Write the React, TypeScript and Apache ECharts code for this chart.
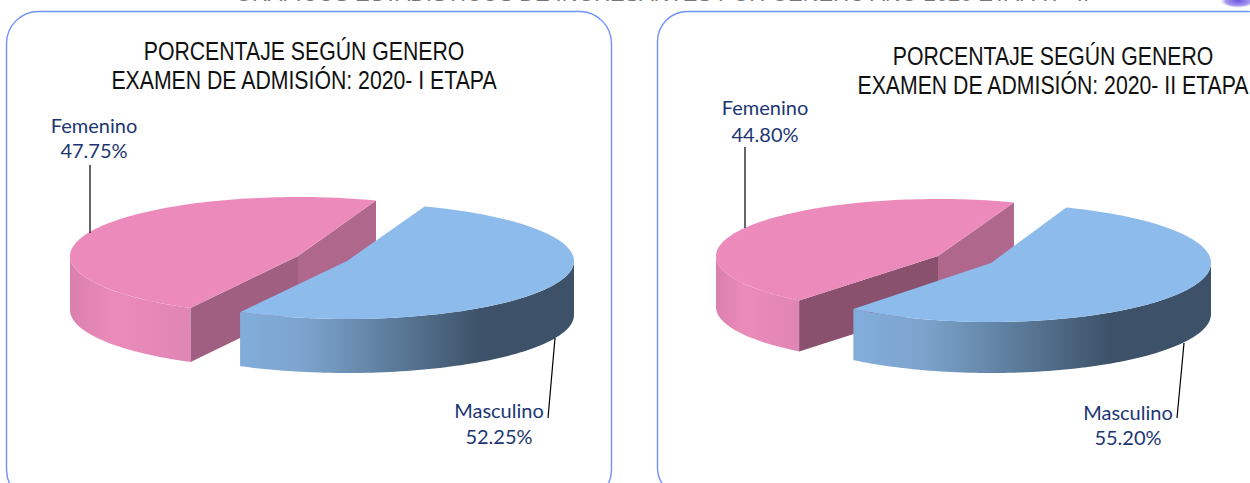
import React, { useEffect, useRef } from "react";
import * as echarts from "echarts";

const categories = ["Femenino", "Masculino"];
const etapa1Values = [47.75, 52.25];
const etapa2Values = [44.8, 55.2];
const chartTitleLines = [
  ["PORCENTAJE SEGÚN GENERO", "EXAMEN DE ADMISIÓN: 2020- I ETAPA"],
  ["PORCENTAJE SEGÚN GENERO", "EXAMEN DE ADMISIÓN: 2020- II ETAPA"],
];
const pageHeading = "GRÁFICOS ESTADÍSTICOS DE INGRESANTES POR GENERO AÑO 2020 ETAPA I - II";

const SEAM_ANGLE = -70;
const LABEL_FONT = '20px Lato, "Noto Sans", sans-serif';
const LABEL_COLOR = "#1C3673";
const TITLE_FONT = '25px "Liberation Sans", sans-serif';
const TITLE_SCALE = 0.85;

const titlePlaces = [
  { x: 304, y: [51, 80] },
  { x: 1053, y: [56, 85] },
];

const layouts = [
  {
    slices: [
      { cx: 298, cy: 256, rx: 228, ry: 59, depth: 54, label: [94, 125, 150], leader: [90, 165, 90, 233] },
      { cx: 347, cy: 261, rx: 227, ry: 58, depth: 54, label: [499, 410, 436], leader: [555, 338, 548, 418] },
    ],
    lowerCut: "#A05F80",
  },
  {
    slices: [
      { cx: 938, cy: 256, rx: 222, ry: 57, depth: 51, label: [765, 107, 134], leader: [745, 147, 745, 228] },
      { cx: 991, cy: 263, rx: 220, ry: 59, depth: 51, label: [1128, 412, 437], leader: [1184, 343, 1177, 418] },
    ],
    lowerCut: "#8A516E",
  },
];

const TOP_COLORS = ["#EC8BBB", "#8DBCEC"];
const UPPER_CUT = "#B0678C";

const sideGradients = [
  [
    [0, "#DA80AD"],
    [0.35, "#EB8BBA"],
    [1, "#E086B4"],
  ],
  [
    [0, "#82ADDB"],
    [0.2, "#7CA3CC"],
    [0.43, "#5F7FA0"],
    [0.72, "#3D5268"],
    [1, "#3D5268"],
  ],
];

function arcPoints(s: any, a: number, b: number) {
  const pts: number[][] = [];
  const n = Math.max(2, Math.ceil(Math.abs(b - a) / 1.5));
  for (let i = 0; i <= n; i++) {
    const t = ((a + ((b - a) * i) / n) * Math.PI) / 180;
    pts.push([s.cx + s.rx * Math.cos(t), s.cy + s.ry * Math.sin(t)]);
  }
  return pts;
}

function makeSeries(values: number[], layout: any) {
  const total = values.reduce((x, y) => x + y, 0);
  const spans = values.map((v) => (v / total) * 360);
  const ranges = [
    [SEAM_ANGLE + spans[1], SEAM_ANGLE + 360],
    [SEAM_ANGLE, SEAM_ANGLE + spans[1]],
  ];
  return {
    type: "custom",
    coordinateSystem: "none",
    silent: true,
    clip: false,
    data: values,
    renderItem: (params: any) => {
      const i = params.dataIndex;
      const s = layout.slices[i];
      const [a, b] = ranges[i];
      const children: any[] = [];
      // outer wall: only the front half of the rim shows
      const wa = Math.max(a, 0);
      const wb = Math.min(b, 180);
      const rim = arcPoints(s, wa, wb);
      children.push({
        type: "polygon",
        shape: {
          points: [...rim, ...rim.slice().reverse().map((p) => [p[0], p[1] + s.depth])],
        },
        style: {
          fill: new echarts.graphic.LinearGradient(
            0, 0, 1, 0,
            sideGradients[i].map((g: any) => ({ offset: g[0], color: g[1] }))
          ),
        },
      });
      if (i === 0) {
        const first = arcPoints(s, a, a + 0.01)[0];
        const last = arcPoints(s, b, b - 0.01)[0];
        const quad = (p: number[], color: string) => ({
          type: "polygon",
          shape: {
            points: [
              [s.cx, s.cy],
              p,
              [p[0], p[1] + s.depth],
              [s.cx, s.cy + s.depth],
            ],
          },
          style: { fill: color },
        });
        children.push(quad(last, UPPER_CUT));
        children.push(quad(first, layout.lowerCut));
      }
      children.push({
        type: "polygon",
        shape: { points: [[s.cx, s.cy], ...arcPoints(s, a, b)] },
        style: { fill: TOP_COLORS[i] },
      });
      children.push({
        type: "line",
        shape: { x1: s.leader[0], y1: s.leader[1], x2: s.leader[2], y2: s.leader[3] },
        style: { stroke: "#000", lineWidth: 1.2 },
      });
      children.push({
        type: "text",
        style: {
          text: categories[i],
          x: s.label[0],
          y: s.label[1],
          align: "center",
          verticalAlign: "middle",
          font: LABEL_FONT,
          fill: LABEL_COLOR,
        },
      });
      children.push({
        type: "text",
        style: {
          text: values[i].toFixed(2) + "%",
          x: s.label[0],
          y: s.label[2],
          align: "center",
          verticalAlign: "middle",
          font: LABEL_FONT,
          fill: LABEL_COLOR,
        },
      });
      return { type: "group", children };
    },
  };
}

export default function App() {
  const ref = useRef<HTMLDivElement>(null);
  useEffect(() => {
    document.body.style.margin = "0";
    document.body.style.overflow = "hidden";
    const chart = echarts.init(ref.current!, undefined, { renderer: "svg" });
    const titleTexts = titlePlaces.flatMap((place, p) =>
      chartTitleLines[p].map((line, l) => ({
        type: "text",
        silent: true,
        x: place.x,
        y: place.y[l],
        scaleX: TITLE_SCALE,
        style: {
          text: line,
          x: 0,
          y: 0,
          align: "center",
          verticalAlign: "middle",
          font: TITLE_FONT,
          fill: "#111",
        },
      }))
    );
    chart.setOption({
      animation: false,
      backgroundColor: "#fff",
      graphic: [
        {
          type: "rect", z: -1, silent: true,
          shape: { x: 6.5, y: 11.5, width: 605, height: 490, r: 32 },
          style: { fill: "transparent", stroke: "#6E92F8", lineWidth: 1.4 },
        },
        {
          type: "rect", z: -1, silent: true,
          shape: { x: 657.5, y: 11.5, width: 620, height: 486, r: 30 },
          style: { fill: "transparent", stroke: "#6E92F8", lineWidth: 1.4 },
        },
        {
          type: "text", silent: true,
          style: {
            text: pageHeading, x: 662, y: 4, align: "center", verticalAlign: "bottom",
            font: '21.8px "Liberation Sans", sans-serif', fill: "#777",
          },
        },
        {
          type: "ellipse", silent: true,
          shape: { cx: 1238, cy: 1, rx: 18, ry: 7 },
          style: {
            fill: new echarts.graphic.RadialGradient(0.5, 0.5, 0.5, [
              { offset: 0, color: "#6A55E0" },
              { offset: 0.7, color: "#A99BF0" },
              { offset: 1, color: "rgba(255,255,230,0.4)" },
            ]),
          },
        },
        ...titleTexts,
      ],
      series: [makeSeries(etapa1Values, layouts[0]), makeSeries(etapa2Values, layouts[1])],
    });
    return () => chart.dispose();
  }, []);
  return <div ref={ref} style={{ width: 1250, height: 483 }} />;
}
